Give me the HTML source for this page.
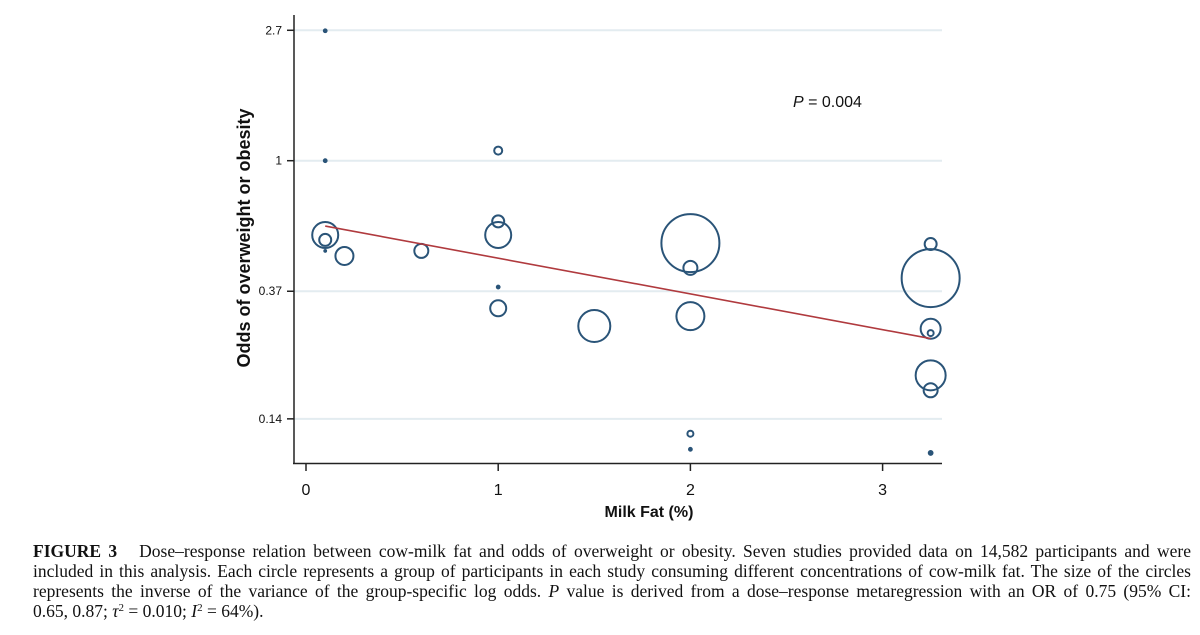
<!DOCTYPE html>
<html><head><meta charset="utf-8"><style>
body{margin:0;width:1200px;height:635px;background:#fff;overflow:hidden;position:relative}
#cap{position:absolute;left:33px;top:541px;width:1158px;font-family:"Liberation Serif",serif;font-size:17.5px;line-height:20px;color:#111}
#cap .j{display:block;text-align:justify;text-align-last:justify;white-space:nowrap}
#cap .l{display:block;white-space:nowrap}
#cap sup{font-size:11px;line-height:0;vertical-align:6px}
</style></head><body>
<svg id="chart" width="1200" height="530" style="position:absolute;left:0;top:0" font-family="Liberation Sans, sans-serif"></svg>
<div id="cap"><span class="j"><b>FIGURE 3</b>&nbsp;&nbsp; Dose–response relation between cow-milk fat and odds of overweight or obesity. Seven studies provided data on 14,582 participants and were</span><span class="j">included in this analysis. Each circle represents a group of participants in each study consuming different concentrations of cow-milk fat. The size of the circles</span><span class="j">represents the inverse of the variance of the group-specific log odds. <i>P</i> value is derived from a dose–response metaregression with an OR of 0.75 (95% CI:</span><span class="l">0.65, 0.87; <i>τ</i><sup>2</sup> = 0.010; <i>I</i><sup>2</sup> = 64%).</span></div>
<script>
const xFat=[0.1,0.1,0.1,0.1,0.1,0.2,0.6,1,1,1,1,1,1.5,2,2,2,2,2,3.25,3.25,3.25,3.25,3.25,3.25,3.25];
const odds=[2.69,1.0,0.568,0.547,0.503,0.484,0.503,1.08,0.63,0.568,0.382,0.325,0.284,0.534,0.442,0.306,0.125,0.111,0.53,0.409,0.278,0.269,0.195,0.174,0.108];
const weight=[2,2,13,6,1.5,9,7,4,6,13,2,8,16,29,7,14,3,2,6,29,10,3,15,7,2.5];
const yTicks=[2.7,1,0.37,0.14];
const yTickLabels=["2.7","1","0.37","0.14"];
const xTicks=[0,1,2,3];
const fitX=[0.1,3.25];
const fitOdds=[0.608,0.258];
const NS="http://www.w3.org/2000/svg";
const svg=document.getElementById('chart');
const X=v=>306+192.2*v;
const Y=v=>160.7-131.3*Math.log(v);
function mk(t,a,txt){const e=document.createElementNS(NS,t);for(const k in a)e.setAttribute(k,a[k]);if(txt!==undefined)e.textContent=txt;svg.appendChild(e);return e;}
yTicks.forEach((t,i)=>{
 let g=mk('line',{x1:294,x2:942,y1:Y(t),y2:Y(t),stroke:'#e3ecf0','stroke-width':2});
 
 let k=mk('line',{x1:287,x2:294,y1:Y(t),y2:Y(t),stroke:'#222','stroke-width':1.5});
 
 let l=mk('text',{x:282,y:Y(t)+4,'text-anchor':'end','font-size':12,fill:'#111'},yTickLabels[i]);
 
});
let ya=mk('line',{x1:294,x2:294,y1:15,y2:464,stroke:'#222','stroke-width':1.5});

let xa=mk('line',{x1:293,x2:942,y1:463.5,y2:463.5,stroke:'#222','stroke-width':1.5});

xTicks.forEach(t=>{
 let k=mk('line',{x1:X(t),x2:X(t),y1:464,y2:471,stroke:'#222','stroke-width':1.5});
 
 let l=mk('text',{x:X(t),y:495,'text-anchor':'middle','font-size':16,fill:'#111'},String(t));
 
});
let xt=mk('text',{x:649,y:517,'text-anchor':'middle','font-size':16,'font-weight':'bold',fill:'#111'},'Milk Fat (%)');

let yt=mk('text',{x:0,y:0,transform:'translate(250,238) rotate(-90)','text-anchor':'middle','font-size':18,'font-weight':'bold',fill:'#111'},'Odds of overweight or obesity');

xFat.forEach((x,i)=>{
 let c=mk('circle',{cx:X(x),cy:Y(odds[i]),r:weight[i],fill:weight[i]<=2.5?'#2a5478':'none',stroke:'#2a5478','stroke-width':weight[i]<=2.5?0.8:2});
 
});
let fl=mk('line',{x1:X(fitX[0]),y1:Y(fitOdds[0]),x2:X(fitX[1]),y2:Y(fitOdds[1]),stroke:'#b03a3e','stroke-width':1.6});

let p=mk('text',{x:793,y:107,'font-size':16,fill:'#111'});

p.innerHTML='<tspan font-style="italic">P</tspan> = 0.004';
</script>
</body></html>
